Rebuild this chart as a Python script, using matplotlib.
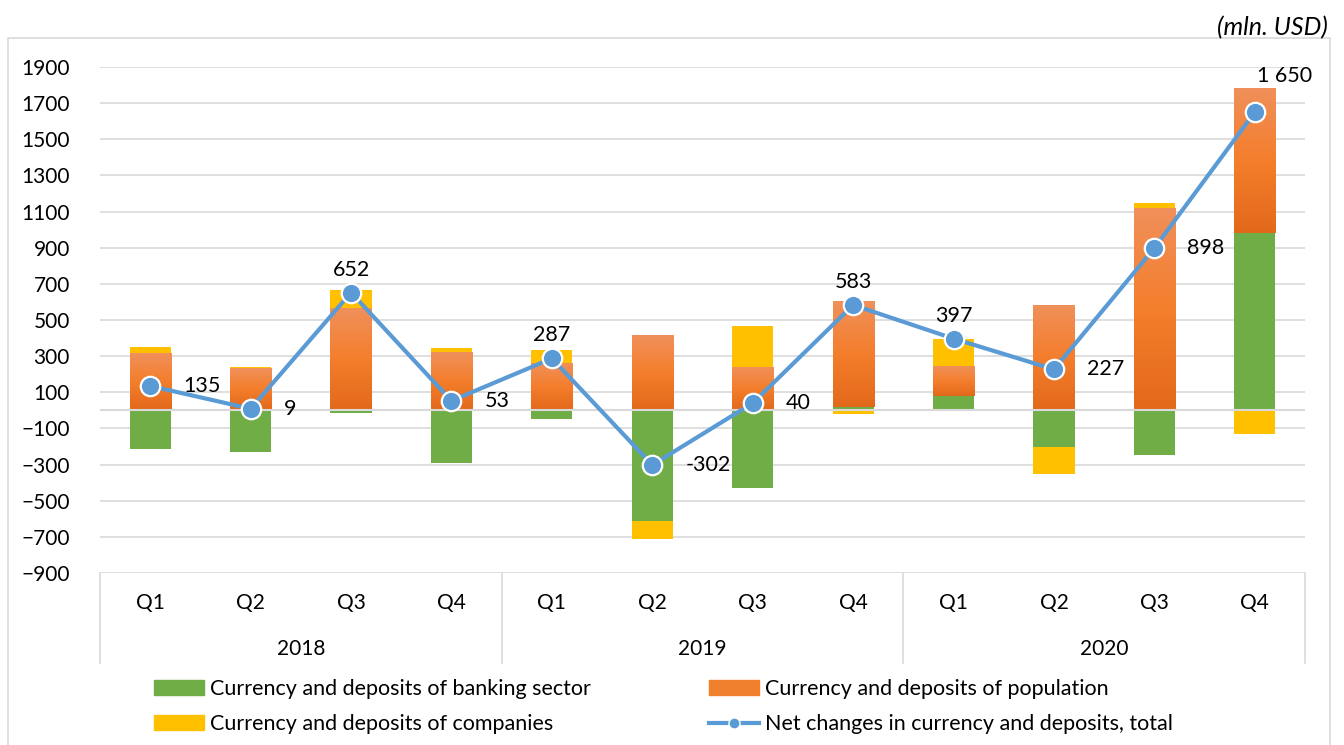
import matplotlib
matplotlib.use("Agg")
import matplotlib.pyplot as plt
import numpy as np
from matplotlib.colors import LinearSegmentedColormap
from matplotlib.patches import Patch, Rectangle
from matplotlib.lines import Line2D

plt.rcParams['font.family'] = ['Lato', 'DejaVu Sans']

# data (mln. USD)
quarters = ['Q1', 'Q2', 'Q3', 'Q4'] * 3
years = ['2018', '2019', '2020']
banking = [-214, -231, -15, -292, -47, -610, -428, 20, 78, -200, -248, 980]
population = [311, 232, 560, 320, 258, 410, 236, 583, 162, 580, 1113, 802]
companies = [38, 8, 107, 25, 76, -102, 232, -20, 157, -153, 33, -132]
net_total = [135, 9, 652, 53, 287, -302, 40, 583, 397, 227, 898, 1650]
net_labels = ['135', '9', '652', '53', '287', '-302', '40', '583', '397', '227', '898', '1 650']

# where each data label sits relative to its marker
label_pos = ['right', 'right', 'above', 'right', 'above', 'right',
             'right', 'above', 'above', 'right', 'right', 'above-right']

GREEN = '#70AD47'
ORANGE = '#F07F2E'
YELLOW = '#FFC000'
BLUE = '#5B9BD5'
GRID = '#D9D9D9'

orange_cmap = LinearSegmentedColormap.from_list('orng', ['#F0905A', '#F47E2C', '#E2691A'])

W, H = 1344, 745
fig = plt.figure(figsize=(W / 100, H / 100), dpi=100)
ax = fig.add_axes([100 / W, 172 / H, 1205 / W, 506 / H])

x = np.arange(len(quarters))
width = 0.41
pos_base = np.zeros(len(x))
neg_base = np.zeros(len(x))
for vals, color, name in [(banking, GREEN, 'bank'), (population, ORANGE, 'pop'), (companies, YELLOW, 'comp')]:
    vals = np.array(vals, dtype=float)
    bottom = np.where(vals >= 0, pos_base, neg_base)
    bars = ax.bar(x, vals, width, bottom=bottom, color=color, zorder=2, linewidth=0)
    if name == 'pop':
        grad = np.linspace(0, 1, 256).reshape(-1, 1)
        for r in bars:
            ax.imshow(grad, cmap=orange_cmap, aspect='auto', origin='upper', zorder=2.1,
                      extent=[r.get_x(), r.get_x() + r.get_width(), r.get_y(), r.get_y() + r.get_height()])
    pos_base += np.clip(vals, 0, None)
    neg_base += np.clip(vals, None, 0)

ax.axhline(0, color=GRID, lw=1.5, zorder=3)

ax.plot(x, net_total, color=BLUE, lw=3, marker='o', markersize=14,
        markerfacecolor=BLUE, markeredgecolor='white', markeredgewidth=1.6, zorder=4)

px = 0.72  # points per pixel
offsets = {'right': ((33 * px, 0), 'left'), 'above': ((0, 23 * px), 'center'),
           'above-right': ((30 * px, 36 * px), 'center')}
for xi, yi, txt, pos in zip(x, net_total, net_labels, label_pos):
    off, ha = offsets[pos]
    ax.annotate(txt, (xi, yi), xytext=off, textcoords='offset points',
                ha=ha, va='center', fontsize=15.5, color='black', zorder=5)

ax.set_xlim(-0.5, len(x) - 0.5)
ax.set_ylim(-900, 1900)
ax.set_yticks(np.arange(-900, 1901, 200))
ax.tick_params(axis='y', length=0, pad=30 * px, labelsize=15)
ax.set_xticks([])
for s in ax.spines.values():
    s.set_visible(False)
ax.set_axisbelow(True)
ax.yaxis.grid(True, color=GRID, lw=1.2)

# multi-level category axis
trans = ax.get_xaxis_transform()
axh = 506.0
for i, q in enumerate(quarters):
    ax.text(i, -30 / axh, q, transform=trans, ha='center', va='center', fontsize=15)
for j, yr in enumerate(years):
    ax.text(j * 4 + 1.5, -76 / axh, yr, transform=trans, ha='center', va='center', fontsize=15)
for xv in [-0.5, 3.5, 7.5, 11.5]:
    ax.plot([xv, xv], [0, -90 / axh], transform=trans, clip_on=False, color=GRID, lw=1.2)

# chart frame and unit note
fig.patches.append(Rectangle((8 / W, -0.01), (1330 - 8) / W, (745 - 38) / H + 0.01,
                             transform=fig.transFigure, fill=False, edgecolor=GRID, lw=1.2))
fig.text(1328 / W, 1 - 28 / H, '(mln. USD)', ha='right', va='center', fontsize=18, style='italic')

handles = [Patch(color=GREEN), Patch(color=YELLOW), Patch(color=ORANGE),
           Line2D([], [], color=BLUE, lw=3, marker='o', markersize=8,
                  markeredgecolor='white', markeredgewidth=1)]
labels = ['Currency and deposits of banking sector', 'Currency and deposits of companies',
          'Currency and deposits of population', 'Net changes in currency and deposits, total']
fig.legend(handles, labels, ncol=2, loc='upper left', bbox_to_anchor=(154 / W, 1 - 679 / H),
           frameon=False, fontsize=15.5, handlelength=2.32, handleheight=0.65,
           handletextpad=0.28, columnspacing=5.47, labelspacing=0.70, borderpad=0,
           borderaxespad=0)

fig.savefig('out.png', dpi=100)
